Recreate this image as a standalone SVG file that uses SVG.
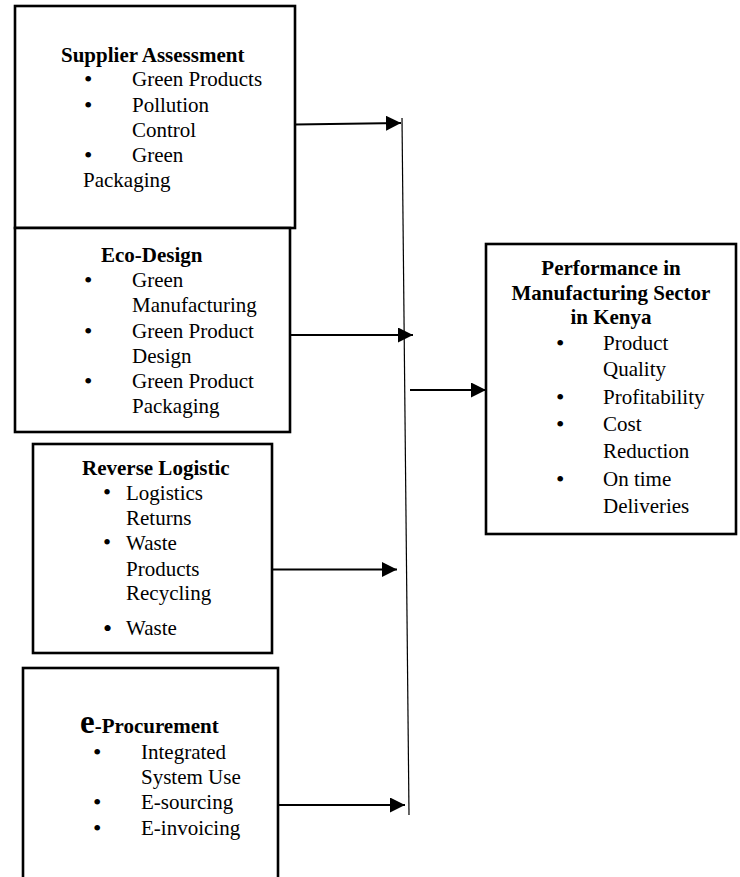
<svg xmlns="http://www.w3.org/2000/svg" width="740" height="877" viewBox="0 0 740 877">
<defs>
<style>
.box{fill:#fff;stroke:#000;stroke-width:2.6}
text{font-family:"Liberation Serif","Times New Roman",serif;font-size:21px;fill:#000}
.h{font-weight:bold}
.c{text-anchor:middle}
.b{font-size:24px}
.conn{stroke:#000;stroke-width:2.2;fill:none}
.bus{stroke:#000;stroke-width:1.2;fill:none}
</style>
<marker id="ah" markerUnits="userSpaceOnUse" markerWidth="16" markerHeight="16" refX="15" refY="7.5" orient="auto">
<path d="M0,0 L15,7.5 L0,15 z" fill="#000"/>
</marker>
</defs>
<rect width="740" height="877" fill="#fff"/>

<g id="supplier-assessment">
<rect class="box" x="15" y="6" width="280" height="222"/>
<text class="h" x="61" y="62">Supplier Assessment</text>
<text class="b" x="84" y="87">•</text><text x="132" y="86">Green Products</text>
<text class="b" x="84" y="113">•</text><text x="132" y="112">Pollution</text>
<text x="132" y="137">Control</text>
<text class="b" x="84" y="163">•</text><text x="132" y="162">Green</text>
<text x="83" y="187">Packaging</text>
</g>

<g id="eco-design">
<rect class="box" x="15" y="228" width="275" height="204"/>
<text class="h" x="101" y="262">Eco-Design</text>
<text class="b" x="84" y="288">•</text><text x="132" y="287">Green</text>
<text x="132" y="312">Manufacturing</text>
<text class="b" x="84" y="339">•</text><text x="132" y="338">Green Product</text>
<text x="132" y="363">Design</text>
<text class="b" x="84" y="389">•</text><text x="132" y="388">Green Product</text>
<text x="132" y="413">Packaging</text>
</g>

<g id="reverse-logistic">
<rect class="box" x="33" y="444" width="239" height="209"/>
<text class="h" x="82" y="475">Reverse Logistic</text>
<text x="103" y="500" style="font-size:23px">•</text><text x="126" y="500">Logistics</text>
<text x="126" y="525">Returns</text>
<text x="103" y="550" style="font-size:23px">•</text><text x="126" y="550">Waste</text>
<text x="126" y="576">Products</text>
<text x="126" y="600">Recycling</text>
<text x="103" y="637" style="font-size:26px">•</text><text x="126" y="635">Waste</text>
</g>

<g id="e-procurement">
<rect class="box" x="23" y="668" width="255" height="230"/>
<text class="h" x="80" y="733"><tspan style="font-size:33px">e</tspan>-Procurement</text>
<text class="b" x="93" y="760">•</text><text x="141" y="759">Integrated</text>
<text x="141" y="784">System Use</text>
<text class="b" x="93" y="810">•</text><text x="141" y="809">E-sourcing</text>
<text class="b" x="93" y="836">•</text><text x="141" y="835">E-invoicing</text>
</g>

<g id="performance">
<rect class="box" x="486" y="244" width="250" height="290"/>
<text class="h c" x="611" y="275">Performance in</text>
<text class="h c" x="611" y="300">Manufacturing Sector</text>
<text class="h c" x="611" y="324">in Kenya</text>
<text class="b" x="556" y="351">•</text><text x="603" y="350">Product</text>
<text x="603" y="376">Quality</text>
<text class="b" x="556" y="405">•</text><text x="603" y="404">Profitability</text>
<text class="b" x="556" y="432">•</text><text x="603" y="431">Cost</text>
<text x="603" y="458">Reduction</text>
<text class="b" x="556" y="487">•</text><text x="603" y="486">On time</text>
<text x="603" y="513">Deliveries</text>
</g>

<g id="connectors">
<line class="bus" x1="402" y1="118" x2="409" y2="815"/>
<line class="conn" x1="295" y1="124.5" x2="401" y2="123" marker-end="url(#ah)"/>
<line class="conn" x1="290" y1="335" x2="413" y2="335" marker-end="url(#ah)"/>
<line class="conn" x1="410" y1="390" x2="486" y2="390" marker-end="url(#ah)"/>
<line class="conn" x1="272" y1="569.5" x2="397" y2="569.5" marker-end="url(#ah)"/>
<line class="conn" x1="278" y1="805" x2="405" y2="805" marker-end="url(#ah)"/>
</g>
</svg>
